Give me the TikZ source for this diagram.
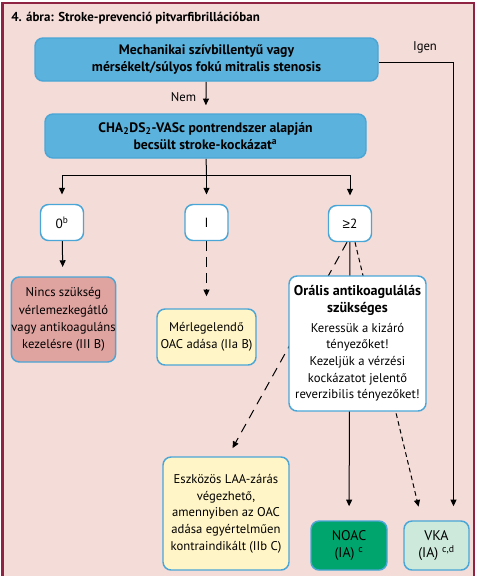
\documentclass[tikz,border=0pt]{standalone}
\usepackage{fontspec}
\setmainfont{PT Sans}
\newfontfamily\symfont{Liberation Sans}
\usetikzlibrary{arrows.meta}
\definecolor{bgpink}{HTML}{F4DCD8}
\definecolor{framered}{HTML}{8E2344}
\definecolor{boxblue}{HTML}{4AA6D6}
\definecolor{blueback}{HTML}{5BB3DD}
\definecolor{rosebox}{HTML}{DFA3A0}
\definecolor{yellowbox}{HTML}{FFF5C6}
\definecolor{noacgreen}{HTML}{00A56E}
\definecolor{vkagreen}{HTML}{CDE9DC}
\newcommand\oralhead[1]{{\bfseries\fontsize{10.6}{12.5}\selectfont #1}}
\pgfdeclarelayer{back}
\pgfdeclarelayer{lines}
\pgfsetlayers{back,lines,main}
\begin{document}
\begin{tikzpicture}[x=0.75pt,y=-0.75pt,inner sep=0pt,
        box/.style={draw=boxblue,line width=1.1pt,rounded corners=6pt,align=center,
          font=\fontsize{9.5}{12.5}\selectfont},
        bluebox/.style={box,fill=blueback,font=\bfseries\fontsize{10.3}{12.75}\selectfont},
        score/.style={box,fill=white,minimum width=32.25pt,minimum height=27pt,
          font=\fontsize{10}{12}\selectfont},
        arr/.style={-{Triangle[length=5pt,width=4.5pt]},line width=0.75pt,shorten >=7pt},
        longdash/.style={dash pattern=on 7pt off 5pt},
        shortdash/.style={dash pattern=on 3.5pt off 2.5pt}]
        \useasboundingbox (0,0) rectangle (478,576);
        \begin{pgfonlayer}{back}
        \fill[bgpink] (2.5,2.5) rectangle (473.5,580);
        \draw[framered,line width=1.5pt] (2.5,580) |- (473.5,2.5) -- (473.5,580);
        \end{pgfonlayer}
        \node[anchor=west,font=\bfseries\fontsize{9.7}{11}\selectfont] (title) at (11,18)
          {4. ábra: Stroke-prevenció pitvarfibrillációban};
        % question and score boxes
        \node[bluebox,minimum width=257.25pt,minimum height=32.25pt] (mech) at (206.5,59.5)
          {Mechanikai szívbillentyű vagy\\mérsékelt/súlyos fokú mitralis stenosis};
        \node[bluebox,minimum width=240.75pt,minimum height=33pt] (cha) at (205.5,136)
          {CHA\textsubscript{2}DS\textsubscript{2}-VASc pontrendszer alapján\\becsült stroke-kockázat\textsuperscript{a}};
        \node[score] (zero) at (62,222.5) {0\textsuperscript{b}};
        \node[score] (one) at (206.5,222.5) {I};
        \node[score] (two) at (350,223.5) {{\symfont ≥}2};
        % recommendations
        \node[box,fill=rosebox,minimum width=77.25pt,minimum height=63.75pt,
          font=\fontsize{9.5}{13}\selectfont] (nincs) at (63.5,319.5)
          {Nincs szükség\\vérlemezkegátló\\vagy antikoaguláns\\kezelésre (III B)};
        \node[box,fill=yellowbox,minimum width=74.25pt,minimum height=42pt] (merl) at (206.5,337)
          {Mérlegelendő\\OAC adása (IIa B)};
        \node[box,fill=white,minimum width=102.75pt,minimum height=101.25pt] (oral) at (357.5,343.5)
          {\oralhead{Orális antikoagulálás}\\\oralhead{szükséges}\\[2.5pt]
           Keressük a kizáró\\tényezőket!\\
           Kezeljük a vérzési\\kockázatot jelentő\\reverzibilis tényezőket!};
        \node[box,fill=yellowbox,minimum width=94.5pt,minimum height=84.75pt] (laa) at (226,513.5)
          {Eszközös LAA-zárás\\végezhető,\\amennyiben az OAC\\adása egyértelműen\\kontraindikált (IIb C)};
        \node[box,fill=noacgreen,minimum width=57pt,minimum height=36.75pt,
          font=\fontsize{10.5}{13}\selectfont] (noac) at (349,545.5)
          {NOAC\\(IA) \textsuperscript{c}};
        \node[box,fill=vkagreen,minimum width=48.75pt,minimum height=36.75pt,
          font=\fontsize{10.5}{13}\selectfont] (vka) at (436.5,545.5)
          {VKA\\(IA) \textsuperscript{c,d}};
        \node[font=\fontsize{9.5}{12}\selectfont] (igen) at (425,47) {Igen};
        \coordinate (fork) at (206.5,175);
        % connectors, behind the boxes
        \begin{pgfonlayer}{lines}
        \draw[arr,shorten >=6pt] (mech) -- node[left=7pt,font=\fontsize{9.5}{12}\selectfont] (nem) {Nem} (cha);
        \draw[arr,shorten >=10.5pt] ([yshift=-2.6pt]mech.east) -| ([xshift=12.75pt]vka.north);
        \draw[line width=0.75pt] (cha) -- (fork);
        \foreach \n in {zero,one,two}
          \draw[arr] (fork) -| (\n);
        \draw[arr] (zero) -- (nincs);
        \draw[arr,longdash,shorten >=9pt] (one) -- (merl);
        \draw[arr,shorten >=10.5pt] (two) -- (noac);
        \draw[arr,longdash] ([xshift=-2.25pt]two.south) -- ([xshift=1.5pt]laa.north);
        \draw[arr,shortdash,shorten >=10.5pt] ([xshift=3.75pt]two.south) -- ([xshift=-11pt]vka.north);
        \end{pgfonlayer}
   \end{tikzpicture}
\end{document}
